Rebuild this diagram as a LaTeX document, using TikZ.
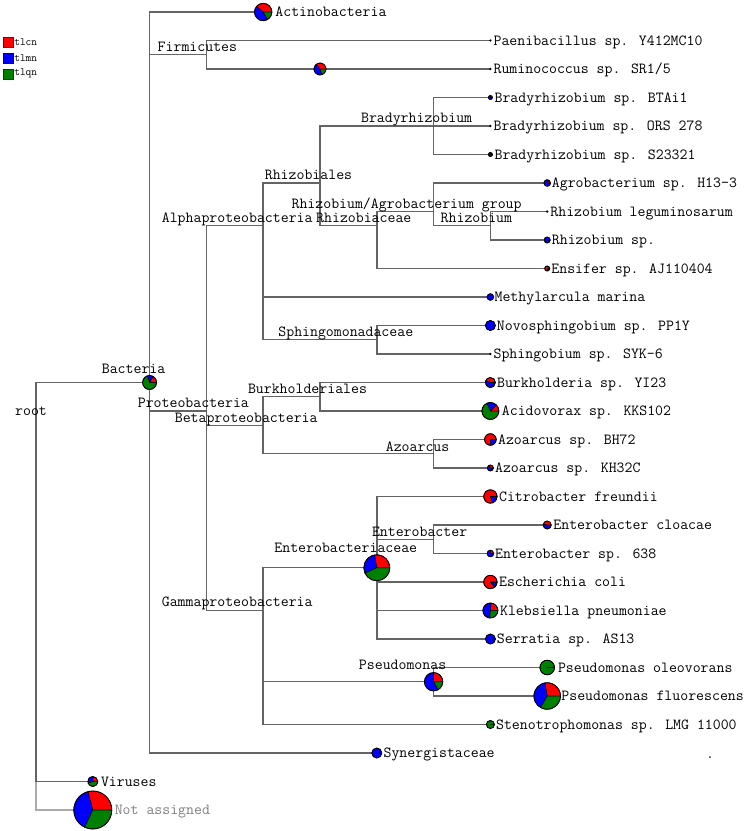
\documentclass[tikz,border=0pt]{standalone}
\usepackage{tikz}
\usetikzlibrary{positioning}
\definecolor{tlcn}{RGB}{255,0,0}
\definecolor{tlmn}{RGB}{0,0,255}
\definecolor{tlqn}{RGB}{0,128,0}
\definecolor{branchgray}{RGB}{100,100,100}
\definecolor{nagray}{RGB}{170,170,170}
\newcommand{\taxpie}[4]{%
  \filldraw[fill=tlcn, draw=black, line width=0.5pt] (#1) -- ++(0:#2pt) arc[start angle=0, end angle=#3, radius=#2pt] -- cycle;
  \filldraw[fill=tlmn, draw=black, line width=0.5pt] (#1) -- ++(#3:#2pt) arc[start angle=#3, end angle=#4, radius=#2pt] -- cycle;
  \filldraw[fill=tlqn, draw=black, line width=0.5pt] (#1) -- ++(#4:#2pt) arc[start angle=#4, end angle=360, radius=#2pt] -- cycle;
  \draw[line width=0.8pt] (#1) circle[radius=#2pt];}

\begin{document}
\begin{tikzpicture}[x=56.8pt, y=-28.5pt,
    branch/.style={draw=branchgray, line width=1.45pt, to path={|- (\tikztotarget)}},
    nabranch/.style={branch, draw=nagray},
    taxon/.style={anchor=base, inner sep=0pt, font=\fontsize{15.4}{18}\selectfont\ttfamily},
    leaf/.style={taxon, anchor=base west, yshift=-4.5pt},
    key/.style={anchor=west, inner sep=0pt, font=\fontsize{11}{13}\selectfont\ttfamily},
    swatch/.style={draw=#1!55!black, fill=#1, minimum size=10pt, inner sep=0pt}]
    \useasboundingbox (-36pt,12pt) rectangle (714pt,-819pt);
    \fill[white] (-36pt,12pt) rectangle (714pt,-819pt);
    \node[swatch=tlcn] (kcn) at (-28pt,-30.5pt) {};
    \node[swatch=tlmn] (kmn) at (-28pt,-46.3pt) {};
    \node[swatch=tlqn] (kqn) at (-28pt,-61.7pt) {};
    \node[key, right=1pt of kcn] {tlcn};
    \node[key, right=1pt of kmn] {tlmn};
    \node[key, right=1pt of kqn] {tlqn};
    \coordinate (root) at (0,14);
    \coordinate (bac) at (2,13);
    \coordinate (vir) at (1,27);
    \coordinate (nas) at (1,28);
    \coordinate (act) at (4,0);
    \coordinate (fir) at (3,1.5);
    \coordinate (pae) at (8,1);
    \coordinate (clo) at (5,2);
    \coordinate (rum) at (8,2);
    \coordinate (pro) at (3,14);
    \coordinate (alp) at (4,7.5);
    \coordinate (rzl) at (5,6);
    \coordinate (bra) at (7,4);
    \coordinate (bta) at (8,3);
    \coordinate (ors) at (8,4);
    \coordinate (s23) at (8,5);
    \coordinate (rzc) at (6,7.5);
    \coordinate (rag) at (7,7);
    \coordinate (agr) at (9,6);
    \coordinate (rzb) at (8,7.5);
    \coordinate (rle) at (9,7);
    \coordinate (rsp) at (9,8);
    \coordinate (ens) at (9,9);
    \coordinate (met) at (8,10);
    \coordinate (sph) at (6,11.5);
    \coordinate (nov) at (8,11);
    \coordinate (syk) at (8,12);
    \coordinate (bet) at (4,14.5);
    \coordinate (bur) at (5,13.5);
    \coordinate (bky) at (8,13);
    \coordinate (aci) at (8,14);
    \coordinate (azo) at (7,15.5);
    \coordinate (abh) at (8,15);
    \coordinate (akh) at (8,16);
    \coordinate (gam) at (4,21);
    \coordinate (enc) at (6,19.5);
    \coordinate (cit) at (8,17);
    \coordinate (ent) at (7,18.5);
    \coordinate (ecl) at (9,18);
    \coordinate (e63) at (8,19);
    \coordinate (eco) at (8,20);
    \coordinate (kle) at (8,21);
    \coordinate (ser) at (8,22);
    \coordinate (pse) at (7,23.5);
    \coordinate (pol) at (9,23);
    \coordinate (pfl) at (9,24);
    \coordinate (ste) at (8,25);
    \coordinate (syn) at (6,26);
    \path (root) edge[nabranch] (nas);
    \path (root) edge[branch] (bac);
    \path (root) edge[branch] (vir);
    \path (bac) edge[branch] (act);
    \path (bac) edge[branch] (fir);
    \path (bac) edge[branch] (pro);
    \path (bac) edge[branch] (syn);
    \path (fir) edge[branch] (pae);
    \path (fir) edge[branch] (clo);
    \path (clo) edge[branch] (rum);
    \path (pro) edge[branch] (alp);
    \path (pro) edge[branch] (bet);
    \path (pro) edge[branch] (gam);
    \path (alp) edge[branch] (rzl);
    \path (alp) edge[branch] (met);
    \path (alp) edge[branch] (sph);
    \path (rzl) edge[branch] (bra);
    \path (rzl) edge[branch] (rzc);
    \path (bra) edge[branch] (bta);
    \path (bra) edge[branch] (ors);
    \path (bra) edge[branch] (s23);
    \path (rzc) edge[branch] (rag);
    \path (rzc) edge[branch] (ens);
    \path (rag) edge[branch] (agr);
    \path (rag) edge[branch] (rzb);
    \path (rzb) edge[branch] (rle);
    \path (rzb) edge[branch] (rsp);
    \path (sph) edge[branch] (nov);
    \path (sph) edge[branch] (syk);
    \path (bet) edge[branch] (bur);
    \path (bet) edge[branch] (azo);
    \path (bur) edge[branch] (bky);
    \path (bur) edge[branch] (aci);
    \path (azo) edge[branch] (abh);
    \path (azo) edge[branch] (akh);
    \path (gam) edge[branch] (enc);
    \path (gam) edge[branch] (pse);
    \path (gam) edge[branch] (ste);
    \path (enc) edge[branch] (cit);
    \path (enc) edge[branch] (ent);
    \path (enc) edge[branch] (eco);
    \path (enc) edge[branch] (kle);
    \path (enc) edge[branch] (ser);
    \path (ent) edge[branch] (ecl);
    \path (ent) edge[branch] (e63);
    \path (pse) edge[branch] (pol);
    \path (pse) edge[branch] (pfl);
    \taxpie{bac}{7}{60}{110}
    \taxpie{vir}{5}{90}{200}
    \taxpie{nas}{19}{105}{245}
    \taxpie{act}{8.7}{140}{300}
    \taxpie{clo}{6}{130}{290}
    \taxpie{bta}{2}{90}{360}
    \taxpie{s23}{2}{90}{360}
    \taxpie{agr}{3.3}{60}{360}
    \taxpie{rsp}{3}{0}{360}
    \taxpie{ens}{2.5}{300}{360}
    \taxpie{met}{3.3}{0}{360}
    \taxpie{nov}{5}{0}{360}
    \taxpie{bky}{5}{160}{360}
    \taxpie{aci}{8.5}{45}{115}
    \taxpie{abh}{5.8}{270}{360}
    \taxpie{akh}{3}{120}{360}
    \taxpie{cit}{6.7}{290}{360}
    \taxpie{ecl}{4}{170}{360}
    \taxpie{e63}{3.3}{100}{360}
    \taxpie{enc}{13}{100}{205}
    \taxpie{eco}{6.7}{310}{360}
    \taxpie{kle}{7.5}{85}{265}
    \taxpie{ser}{5}{0}{360}
    \taxpie{pse}{9.2}{90}{300}
    \taxpie{pol}{7.3}{0}{3}
    \taxpie{pfl}{13.3}{100}{240}
    \taxpie{ste}{4}{0}{0}
    \taxpie{syn}{5}{0}{360}
    \fill (pae) circle[radius=1.3pt];
    \fill (rum) circle[radius=1.3pt];
    \fill (ors) circle[radius=1.3pt];
    \fill (rle) circle[radius=1.3pt];
    \fill (syk) circle[radius=1.3pt];
    \node[taxon, xshift=-5pt, yshift=-4pt] at (root) {root};
    \node[taxon, xshift=-16pt, yshift=9pt] at (bac) {Bacteria};
    \node[taxon, xshift=-9pt, yshift=3pt] at (fir) {Firmicutes};
    \node[taxon, xshift=-13pt, yshift=4pt] at (pro) {Proteobacteria};
    \node[taxon, xshift=-26pt, yshift=3pt] at (alp) {Alphaproteobacteria};
    \node[taxon, xshift=-11.5pt, yshift=4pt] at (rzl) {Rhizobiales};
    \node[taxon, xshift=-17pt, yshift=4pt] at (bra) {Bradyrhizobium};
    \node[taxon, xshift=-27pt, yshift=3.5pt] at (rag) {Rhizobium/Agrobacterium group};
    \node[taxon, xshift=-13pt, yshift=3pt] at (rzc) {Rhizobiaceae};
    \node[taxon, xshift=-14pt, yshift=3pt] at (rzb) {Rhizobium};
    \node[taxon, xshift=-31pt, yshift=3pt] at (sph) {Sphingomonadaceae};
    \node[taxon, xshift=-17pt, yshift=2.5pt] at (bet) {Betaproteobacteria};
    \node[taxon, xshift=-12.5pt, yshift=3.5pt] at (bur) {Burkholderiales};
    \node[taxon, xshift=-16pt, yshift=2.5pt] at (azo) {Azoarcus};
    \node[taxon, xshift=-26pt, yshift=4pt] at (gam) {Gammaproteobacteria};
    \node[taxon, xshift=-31pt, yshift=15pt] at (enc) {Enterobacteriaceae};
    \node[taxon, xshift=-14pt, yshift=3pt] at (ent) {Enterobacter};
    \node[taxon, xshift=-31pt, yshift=12pt] at (pse) {Pseudomonas};
    \node[leaf, xshift=12pt] at (act) {Actinobacteria};
    \node[leaf, xshift=3pt] at (pae) {Paenibacillus sp. Y412MC10};
    \node[leaf, xshift=3pt] at (rum) {Ruminococcus sp. SR1/5};
    \node[leaf, xshift=4pt] at (bta) {Bradyrhizobium sp. BTAi1};
    \node[leaf, xshift=3pt] at (ors) {Bradyrhizobium sp. ORS 278};
    \node[leaf, xshift=4pt] at (s23) {Bradyrhizobium sp. S23321};
    \node[leaf, xshift=4.5pt] at (agr) {Agrobacterium sp. H13-3};
    \node[leaf, xshift=3pt] at (rle) {Rhizobium leguminosarum};
    \node[leaf, xshift=4.5pt] at (rsp) {Rhizobium sp.};
    \node[leaf, xshift=4pt] at (ens) {Ensifer sp. AJ110404};
    \node[leaf, xshift=4pt] at (met) {Methylarcula marina};
    \node[leaf, xshift=6.3pt] at (nov) {Novosphingobium sp. PP1Y};
    \node[leaf, xshift=3pt] at (syk) {Sphingobium sp. SYK-6};
    \node[leaf, xshift=6.5pt] at (bky) {Burkholderia sp. YI23};
    \node[leaf, xshift=11.3pt] at (aci) {Acidovorax sp. KKS102};
    \node[leaf, xshift=7.5pt] at (abh) {Azoarcus sp. BH72};
    \node[leaf, xshift=4.5pt] at (akh) {Azoarcus sp. KH32C};
    \node[leaf, xshift=8.5pt] at (cit) {Citrobacter freundii};
    \node[leaf, xshift=6pt] at (ecl) {Enterobacter cloacae};
    \node[leaf, xshift=4.5pt] at (e63) {Enterobacter sp. 638};
    \node[leaf, xshift=8.5pt] at (eco) {Escherichia coli};
    \node[leaf, xshift=9.5pt] at (kle) {Klebsiella pneumoniae};
    \node[leaf, xshift=6.3pt] at (ser) {Serratia sp. AS13};
    \node[leaf, xshift=10.6pt] at (pol) {Pseudomonas oleovorans};
    \node[leaf, xshift=14pt] at (pfl) {Pseudomonas fluorescens};
    \node[leaf, xshift=5.5pt] at (ste) {Stenotrophomonas sp. LMG 11000};
    \node[leaf, xshift=6.6pt] at (syn) {Synergistaceae};
    \node[leaf, xshift=8pt] at (vir) {Viruses};
    \node[leaf, xshift=21.8pt, text=gray] at (nas) {Not assigned};
    \node[taxon] (mark) at (674pt,-746pt) {.};
\end{tikzpicture}
\end{document}
